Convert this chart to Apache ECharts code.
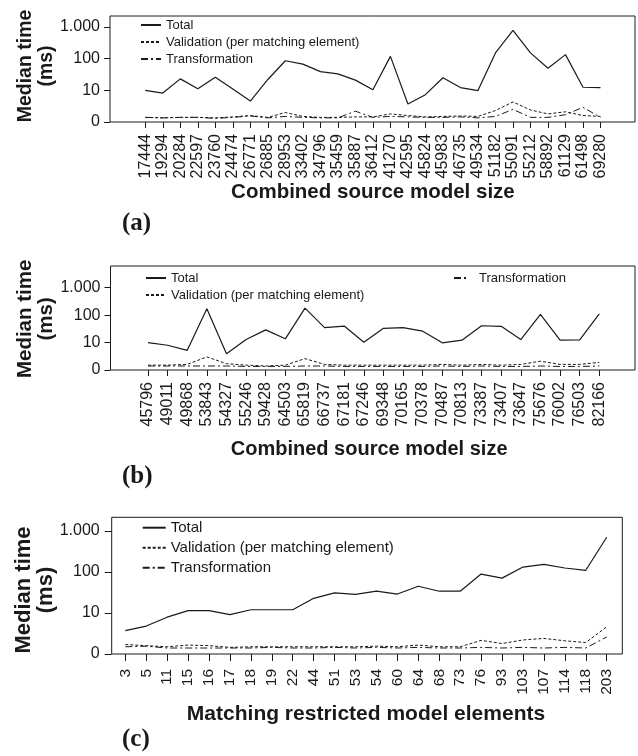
<!DOCTYPE html>
<html><head><meta charset="utf-8">
<script src="https://cdn.jsdelivr.net/npm/echarts@6/dist/echarts.min.js"></script>
<style>html,body{margin:0;padding:0;background:#fff}#c{width:638px;height:756px}</style>
</head><body><div id="c"></div>
<script>
// ---------- data ----------
const catA = ['17444','19294','20284','22597','23760','24474','26771','26885','28953','33402','34796','35459','35887','36412','41270','42595','45824','45983','46735','49534','51182','55091','55212','58892','61129','61498','69280'];
const totalA = [10, 8.2, 23, 11.3, 26, 11, 4.6, 22, 86, 67, 39, 33, 21, 10.5, 118, 3.7, 7.3, 25, 12.2, 9.8, 152, 780, 152, 50, 134, 12.5, 12.2];
const validA = [1.4, 1.35, 1.4, 1.4, 1.35, 1.45, 1.6, 1.4, 2.0, 1.5, 1.4, 1.4, 1.45, 1.45, 1.8, 1.6, 1.45, 1.5, 1.55, 1.5, 2.3, 4.3, 2.4, 1.8, 2.1, 1.6, 1.5];
const transA = [1.4, 1.35, 1.4, 1.4, 1.3, 1.4, 1.55, 1.35, 1.5, 1.4, 1.35, 1.35, 2.2, 1.4, 1.5, 1.45, 1.4, 1.4, 1.45, 1.35, 1.5, 2.5, 1.4, 1.4, 1.7, 2.9, 1.4];

const catB = ['45796','49011','49868','53843','54327','55246','59428','64503','65819','66737','67181','67246','69348','70165','70378','70487','70813','73387','73407','73647','75676','76002','76503','82166'];
const totalB = [10, 8, 5.2, 171, 3.9, 12.9, 29, 13.7, 180, 35, 40, 10.3, 33, 35, 26, 9.8, 12.2, 41, 39, 12.9, 106, 12.2, 12.5, 112];
const validB = [1.5, 1.5, 1.6, 3.0, 1.7, 1.5, 1.4, 1.5, 2.6, 1.6, 1.5, 1.5, 1.5, 1.5, 1.5, 1.6, 1.5, 1.6, 1.5, 1.6, 2.1, 1.6, 1.6, 1.9];
const transB = [1.4, 1.4, 1.4, 1.4, 1.4, 1.35, 1.35, 1.35, 1.4, 1.4, 1.35, 1.35, 1.35, 1.35, 1.35, 1.4, 1.35, 1.4, 1.35, 1.35, 1.4, 1.35, 1.35, 1.4];

const catC = ['3','5','11','15','16','17','18','19','22','44','51','53','54','60','64','68','73','76','93','103','107','114','118','203'];
const totalC = [3.7, 4.8, 7.9, 11.4, 11.4, 9.1, 12, 12, 12, 22.8, 31, 28.5, 34, 29, 45, 34, 34, 89, 71, 132, 154, 125, 110, 702];
const validC = [1.7, 1.6, 1.5, 1.65, 1.6, 1.45, 1.5, 1.5, 1.5, 1.5, 1.5, 1.5, 1.55, 1.5, 1.65, 1.5, 1.5, 2.15, 1.8, 2.2, 2.4, 2.1, 1.9, 4.6];
const transC = [1.5, 1.55, 1.4, 1.4, 1.4, 1.4, 1.4, 1.45, 1.4, 1.4, 1.45, 1.4, 1.45, 1.4, 1.45, 1.4, 1.4, 1.45, 1.4, 1.45, 1.4, 1.45, 1.4, 2.6];

const yTickValues = [1, 10, 100, 1000];
const yTickLabels = ['0', '10', '100', '1.000'];
const seriesNames = ['Total', 'Validation (per matching element)', 'Transformation'];
const panelLetters = ['(a)', '(b)', '(c)'];
const xTitles = ['Combined source model size', 'Combined source model size', 'Matching restricted model elements'];
const yTitle = 'Median time\n(ms)';

// ---------- layout ----------
const FONT = '"Liberation Sans", Arial, Helvetica, sans-serif';
const INK = '#1a1a1a';
const panels = [
  { cats: catA, vals: [totalA, validA, transA],
    box: {left: 110, top: 16, width: 525, height: 106},
    data: {left: 145.3, top: 27, width: 455.2, height: 95},
    yName: {size: 19.5, lh: 21, gap: 53, pad: [0,0,0,17]},
    xLab: {size: 16, margin: 12}, xName: {size: 20.5, gap: 60, pad: [0,0,0,0]},
    tick: 6, yLabMargin: 10, letterTop: 211 },
  { cats: catB, vals: [totalB, validB, transB],
    box: {left: 110.5, top: 266, width: 524.5, height: 104},
    data: {left: 148, top: 287.7, width: 451.3, height: 82.3},
    yName: {size: 20.5, lh: 21, gap: 54, pad: [0,0,0,20]},
    xLab: {size: 16, margin: 12}, xName: {size: 20, gap: 69, pad: [0,9,0,0]},
    tick: 6, yLabMargin: 10, letterTop: 464 },
  { cats: catC, vals: [totalC, validC, transC],
    box: {left: 111.7, top: 517.3, width: 510.6, height: 136.7},
    data: {left: 125.3, top: 531, width: 481.4, height: 123},
    yName: {size: 22, lh: 22, gap: 55, pad: [0,0,0,5]},
    xLab: {size: 15.5, margin: 15}, xName: {size: 21, gap: 50, pad: [0,0,0,0]},
    tick: 7, yLabMargin: 12, letterTop: 727 }
];

const lineStyles = [
  {color: INK, width: 1.2, type: 'solid'},
  {color: INK, width: 1, type: [3, 2]},
  {color: INK, width: 1, type: [7, 3, 2, 3]}
];

const grid = [], xAxis = [], yAxis = [], series = [], title = [];
panels.forEach((p, i) => {
  grid.push(Object.assign({show: true, borderColor: INK, borderWidth: 1, backgroundColor: 'transparent', containLabel: false, outerBoundsMode: 'none'}, p.box));
  grid.push(Object.assign({show: false, containLabel: false, outerBoundsMode: 'none'}, p.data));
  xAxis.push({type: 'value', gridIndex: 2*i, show: false});
  yAxis.push({type: 'value', gridIndex: 2*i, show: false});
  xAxis.push({
    type: 'category', gridIndex: 2*i+1, data: p.cats, boundaryGap: false,
    axisLine: {show: false},
    axisTick: {show: true, interval: 0, length: p.tick, lineStyle: {color: INK, width: 1}},
    axisLabel: {interval: 0, rotate: 90, margin: p.xLab.margin, fontSize: p.xLab.size, color: INK, fontFamily: FONT, hideOverlap: false},
    splitLine: {show: false},
    name: xTitles[i], nameLocation: 'middle', nameGap: p.xName.gap, nameMoveOverlap: false,
    nameTextStyle: {fontSize: p.xName.size, fontWeight: 'bold', color: INK, fontFamily: FONT, padding: p.xName.pad}
  });
  yAxis.push({
    type: 'log', logBase: 10, gridIndex: 2*i+1, min: 1, max: 1000,
    offset: p.data.left - p.box.left,
    axisLine: {show: false},
    axisTick: {show: true, length: p.tick, lineStyle: {color: INK, width: 1}},
    axisLabel: {margin: p.yLabMargin, fontSize: 16, color: INK, fontFamily: FONT,
      formatter: v => { const k = yTickValues.indexOf(Math.round(v)); return k >= 0 ? yTickLabels[k] : ''; }},
    splitLine: {show: false}, minorTick: {show: false},
    name: yTitle, nameLocation: 'middle', nameRotate: 90, nameGap: p.yName.gap, nameMoveOverlap: false,
    nameTextStyle: {fontSize: p.yName.size, lineHeight: p.yName.lh, fontWeight: 'bold', color: INK, fontFamily: FONT, padding: p.yName.pad}
  });
  p.vals.forEach((arr, k) => {
    series.push({
      type: 'line', name: seriesNames[k], xAxisIndex: 2*i+1, yAxisIndex: 2*i+1,
      data: arr, symbol: 'none', showSymbol: false, smooth: false,
      lineStyle: lineStyles[k], itemStyle: {color: INK}, z: 3 - k
    });
  });
  title.push({text: panelLetters[i], left: 122, top: p.letterTop, padding: 0,
    textStyle: {fontFamily: '"Liberation Serif", "Times New Roman", serif', fontWeight: 'bold', fontSize: 25, color: INK}});
});

const legendBase = {orient: 'vertical', padding: 0, itemHeight: 10, selectedMode: false,
  itemStyle: {opacity: 0, borderWidth: 0, color: 'transparent'}};
const legend = [
  Object.assign({}, legendBase, {left: 140, top: 18, itemWidth: 20, itemGap: 3,
    textStyle: {fontSize: 13, lineHeight: 14, color: INK, fontFamily: FONT}, data: seriesNames}),
  Object.assign({}, legendBase, {left: 145, top: 271, itemWidth: 20, itemGap: 3,
    textStyle: {fontSize: 13, lineHeight: 14, color: INK, fontFamily: FONT}, data: seriesNames.slice(0, 2)}),
  Object.assign({}, legendBase, {left: 453, top: 271, itemWidth: 15, itemGap: 3,
    textStyle: {fontSize: 13, lineHeight: 14, color: INK, fontFamily: FONT, padding: [0,0,0,5]}, data: [seriesNames[2]]}),
  Object.assign({}, legendBase, {left: 141.7, top: 519.7, itemWidth: 23, itemGap: 4,
    textStyle: {fontSize: 15, lineHeight: 16, color: INK, fontFamily: FONT}, data: seriesNames})
];

const chart = echarts.init(document.getElementById('c'), null, {renderer: 'canvas', width: 638, height: 756});
chart.setOption({
  backgroundColor: '#ffffff', animation: false,
  title, grid, xAxis, yAxis, series, legend
});
</script>
</body></html>
